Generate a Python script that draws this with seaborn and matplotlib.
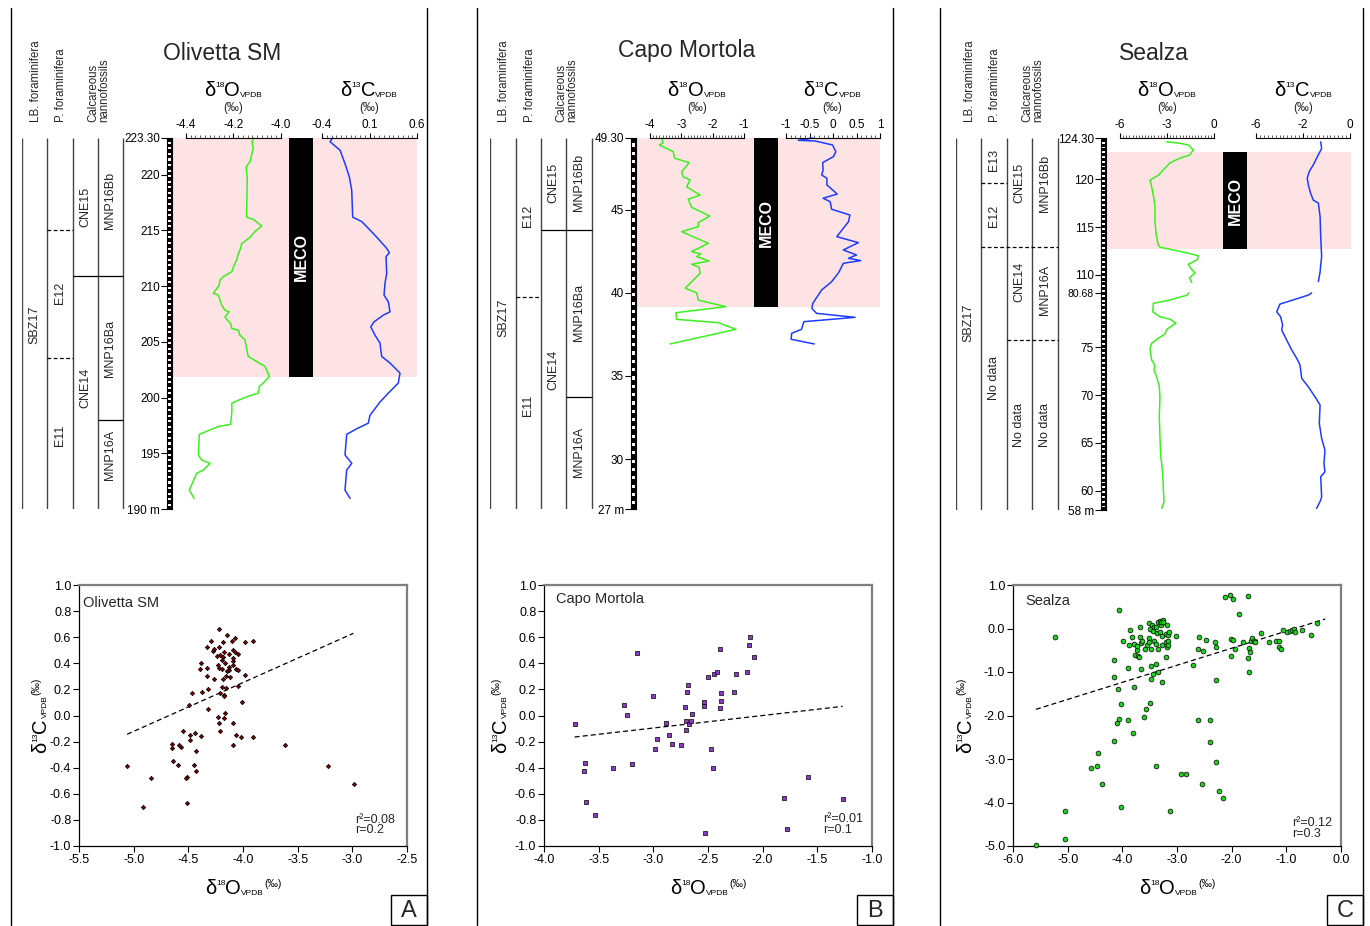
import matplotlib
matplotlib.use("Agg")
import numpy as np
import pandas as pd
import matplotlib.pyplot as plt
import seaborn as sns
from matplotlib.patches import Rectangle
from matplotlib.ticker import MultipleLocator

# ---------------- data: isotope curves (value, depth in m) ----------------
olv_o_depth = [223.3, 222.97, 222.4, 221.2, 220.7, 219.7, 216.2, 216.0, 215.4, 214.9,
               214.4, 213.8, 213.4, 212.9, 212.35, 211.75, 211.3, 210.85, 210.55, 210.1,
               209.35, 209.2, 208.75, 208.3, 207.85, 207.7, 207.25, 206.95, 206.65, 206.2,
               206.05, 205.6, 205.2, 204.1, 203.7, 203.2, 202.8, 201.9, 201.3, 201.0,
               200.4, 200.1, 199.5, 198.7, 197.6, 197.4, 196.7, 194.85, 194.4, 194.1,
               193.5, 193.2, 191.7, 190.95]
olv_o = [-4.114, -4.122, -4.117, -4.13, -4.147, -4.142, -4.145, -4.117, -4.081, -4.11,
         -4.13, -4.166, -4.17, -4.18, -4.187, -4.20, -4.207, -4.243, -4.257, -4.26,
         -4.285, -4.264, -4.257, -4.25, -4.236, -4.218, -4.236, -4.226, -4.212, -4.207,
         -4.18, -4.173, -4.152, -4.142, -4.138, -4.10, -4.067, -4.049, -4.075, -4.091,
         -4.095, -4.142, -4.207, -4.207, -4.212, -4.264, -4.344, -4.348, -4.334, -4.299,
         -4.327, -4.355, -4.386, -4.366]
olv_c_depth = [223.3, 222.97, 222.2, 221.0, 219.8, 218.6, 216.2, 215.8, 215.2, 214.4,
               213.4, 213.0, 212.65, 211.15, 210.25, 209.2, 208.6, 207.7, 207.4, 206.8,
               206.35, 205.6, 204.9, 203.7, 203.1, 202.2, 201.3, 200.4, 199.6, 198.4,
               197.7, 197.2, 196.7, 194.85, 194.1, 193.5, 191.7, 190.95]
olv_c = [-0.287, -0.316, -0.21, -0.158, -0.112, -0.087, -0.077, 0.018, 0.087, 0.176,
         0.281, 0.309, 0.274, 0.281, 0.263, 0.253, 0.298, 0.316, 0.245, 0.148,
         0.113, 0.158, 0.21, 0.228, 0.316, 0.421, 0.403, 0.298, 0.21, 0.105,
         0.087, -0.035, -0.14, -0.158, -0.087, -0.14, -0.158, -0.105]

cap_o_depth = [49.3, 49.02, 48.88, 48.48, 48.08, 47.82, 47.27, 46.97, 46.78, 46.37,
               45.87, 45.62, 45.13, 44.61, 44.21, 43.97, 43.67, 42.97, 42.47, 42.33,
               42.17, 41.91, 41.71, 41.53, 41.17, 40.27, 40.0, 39.56, 39.16, 38.80,
               38.40, 38.2, 37.8, 36.92]
cap_o = [-3.63, -3.58, -3.70, -3.26, -3.21, -2.75, -2.99, -2.94, -2.72, -2.83,
         -2.40, -2.78, -2.67, -2.09, -2.46, -2.46, -2.99, -2.14, -2.67, -2.38,
         -2.51, -2.11, -2.67, -2.43, -2.40, -2.88, -2.51, -2.46, -1.58, -3.17,
         -3.15, -1.82, -1.26, -3.36]
cap_c_depth = [49.3, 49.16, 49.12, 48.88, 48.48, 48.18, 47.82, 47.38, 47.08, 46.88,
               46.48, 45.93, 45.68, 45.47, 45.02, 44.67, 44.27, 43.37, 43.01, 42.57,
               42.27, 42.07, 41.93, 41.77, 41.37, 41.17, 40.66, 40.17, 39.36, 39.06,
               38.76, 38.52, 38.26, 37.80, 37.56, 37.20, 36.92]
cap_c = [-0.43, -0.74, -0.38, -0.01, 0.06, 0.01, -0.22, -0.21, -0.24, -0.13,
         -0.13, 0.09, -0.21, -0.06, -0.03, 0.36, 0.33, 0.08, 0.54, 0.22,
         0.50, 0.33, 0.59, 0.22, 0.15, 0.11, -0.03, -0.24, -0.43, -0.45,
         -0.35, 0.47, -0.62, -0.67, -0.88, -0.89, -0.40]

# Sealza has a gap in the section (between 80.68 m and ~108 m)
sea_o_up_depth = [123.9, 123.75, 123.57, 123.05, 122.5, 122.2, 121.7, 120.8, 120.4, 119.9,
                  119.2, 118.3, 117.3, 115.7, 114.3, 113.1, 112.9, 112.3, 112.0, 111.6,
                  111.1, 110.7, 110.2, 109.7, 109.2]
sea_o_up = [-3.02, -2.17, -1.64, -1.32, -1.57, -2.17, -2.81, -3.34, -3.56, -4.09,
            -3.98, -3.87, -3.77, -3.77, -3.70, -3.56, -3.45, -1.74, -1.00, -1.06,
            -1.64, -1.49, -1.21, -1.57, -1.42]
sea_o_lo_depth = [80.68, 80.45, 79.93, 79.59, 78.71, 78.19, 77.91, 77.50, 76.87, 76.38,
                  75.82, 75.41, 74.88, 73.66, 73.14, 72.62, 71.92, 70.87, 69.83, 67.74,
                  65.65, 63.56, 62.87, 61.82, 60.08, 58.86, 58.17]
sea_o_lo = [-1.64, -1.70, -2.81, -3.87, -3.91, -3.45, -2.77, -2.43, -3.02, -3.13,
            -3.66, -3.98, -4.09, -3.98, -3.77, -3.83, -3.66, -3.49, -3.45, -3.49,
            -3.45, -3.40, -3.34, -3.28, -3.23, -3.19, -3.34]
sea_c_up_depth = [123.9, 123.2, 122.2, 121.5, 120.8, 120.1, 119.4, 118.5, 117.8, 117.5,
                  116.1, 114.0, 111.9, 111.0, 110.3, 109.3]
sea_c_up = [-1.87, -1.81, -2.13, -2.34, -2.60, -2.73, -2.66, -2.51, -2.34, -2.02,
            -1.91, -1.87, -1.81, -1.87, -1.91, -2.02]
sea_c_lo_depth = [80.68, 80.45, 79.51, 78.71, 78.19, 77.32, 76.80, 75.75, 74.71, 73.84,
                  73.14, 71.75, 70.87, 69.66, 68.96, 67.05, 65.48, 64.26, 62.87, 61.99,
                  61.47, 59.38, 59.03, 58.17]
sea_c_lo = [-2.45, -2.66, -4.47, -4.68, -4.43, -4.30, -4.36, -4.04, -3.72, -3.40,
            -3.19, -3.08, -2.66, -2.17, -1.91, -1.96, -1.81, -1.60, -1.66, -1.60,
            -1.87, -1.81, -1.87, -2.13]

# MECO interval (depth range, m)
olv_meco = (201.85, 223.3)
cap_meco = (39.14, 49.3)
sea_meco = (112.7, 122.8)

# biozone boundaries: (depth, first column, last column, style)
olv_zone_lines = [(215.0, 1, 2, "--"), (203.55, 1, 2, "--"), (210.9, 2, 4, "-"), (198.0, 3, 4, "-")]
cap_zone_lines = [(39.74, 1, 2, "--"), (43.77, 2, 4, "-"), (33.73, 3, 4, "-")]
sea_zone_lines = [(119.6, 1, 2, "--"), (112.9, 1, 4, "--"), (75.75, 2, 4, "--")]

# biozone labels: (text, column, depth)
olv_zone_labels = [("SBZ17", 0, 206.5), ("E12", 1, 209.4), ("E11", 1, 196.6),
                   ("CNE15", 2, 217.1), ("CNE14", 2, 200.9), ("MNP16Bb", 3, 217.7),
                   ("MNP16Ba", 3, 204.45), ("MNP16A", 3, 194.85)]
cap_zone_labels = [("SBZ17", 0, 38.5), ("E12", 1, 44.6), ("E11", 1, 33.25),
                   ("CNE15", 2, 46.6), ("CNE14", 2, 35.36), ("MNP16Bb", 3, 46.6),
                   ("MNP16Ba", 3, 38.8), ("MNP16A", 3, 30.4)]
sea_zone_labels = [("SBZ17", 0, 77.6), ("E13", 1, 122.0), ("E12", 1, 116.2),
                   ("No data", 1, 71.8), ("CNE15", 2, 119.6), ("CNE14", 2, 109.25),
                   ("No data", 2, 66.9), ("MNP16Bb", 3, 119.6), ("MNP16A", 3, 108.42),
                   ("No data", 3, 66.9)]

# depth axis ticks
olv_depth_ticks = [190, 195, 200, 205, 210, 215, 220, 223.3]
olv_depth_labels = ["190 m", "195", "200", "205", "210", "215", "220", "223.30"]
cap_depth_ticks = [27, 30, 35, 40, 45, 49.3]
cap_depth_labels = ["27 m", "30", "35", "40", "45", "49.30"]
sea_depth_ticks = [58, 60, 65, 70, 75, 80.68, 110, 115, 120, 124.3]
sea_depth_labels = ["58 m", "60", "65", "70", "75", "80.68", "110", "115", "120", "124.30"]

# ---------------- data: cross plots ----------------
olv_x = [-4.215, -4.142, -4.075, -4.295, -4.185, -4.105, -3.98, -3.913, -4.331, -4.276,
         -4.261, -4.215, -4.17, -4.13, -4.087, -4.075, -4.05, -4.21, -4.24, -4.185,
         -4.383, -4.392, -4.331, -4.194, -4.163, -4.087, -4.087, -4.233, -4.215, -4.194,
         -4.124, -4.093, -4.062, -4.05, -4.15, -4.127, -4.331, -4.261, -4.185, -4.157,
         -4.118, -3.98, -4.05, -4.194, -4.157, -4.316, -4.377, -4.462, -4.21, -4.175,
         -4.17, -4.493, -4.322, -4.005, -4.163, -4.233, -4.17, -4.087, -4.215, -4.545,
         -4.481, -4.438, -4.383, -4.21, -4.066, -4.02, -3.904, -4.484, -4.096, -3.62,
         -4.652, -4.652, -4.581, -4.563, -4.432, -4.643, -4.591, -4.447, -4.432, -4.514,
         -4.524, -5.06, -4.841, -4.911, -4.514, -3.227, -2.988]
olv_y = [0.663, 0.614, 0.591, 0.573, 0.563, 0.573, 0.563, 0.573, 0.522, 0.497,
         0.512, 0.522, 0.487, 0.469, 0.502, 0.484, 0.471, 0.464, 0.456, 0.446,
         0.405, 0.354, 0.364, 0.425, 0.40, 0.438, 0.42, 0.384, 0.366, 0.356,
         0.374, 0.384, 0.359, 0.349, 0.344, 0.346, 0.303, 0.277, 0.277, 0.303,
         0.292, 0.313, 0.229, 0.221, 0.208, 0.201, 0.183, 0.175, 0.175, 0.157,
         0.149, 0.08, 0.052, 0.103, 0.022, -0.009, -0.022, -0.055, -0.06, -0.119,
         -0.147, -0.137, -0.155, -0.119, -0.147, -0.167, -0.167, -0.188, -0.226, -0.226,
         -0.216, -0.252, -0.226, -0.244, -0.27, -0.346, -0.377, -0.377, -0.428, -0.469,
         -0.479, -0.387, -0.479, -0.699, -0.668, -0.387, -0.527]
olv_fit_x = [-5.06, -2.99]
olv_fit_y = [-0.144, 0.630]
olv_stats = ["r\u00b2=0.08", "r=0.2"]

cap_x = [-3.719, -3.627, -3.634, -3.612, -3.529, -3.371, -3.27, -3.239, -3.196, -3.15,
         -3.001, -2.989, -2.967, -2.888, -2.86, -2.83, -2.75, -2.71, -2.698, -2.698,
         -2.689, -2.68, -2.67, -2.66, -2.648, -2.535, -2.535, -2.532, -2.496, -2.477,
         -2.456, -2.448, -2.422, -2.392, -2.392, -2.383, -2.38, -2.258, -2.243, -2.142,
         -2.121, -2.112, -2.079, -1.803, -1.782, -1.589, -1.268]
cap_y = [-0.068, -0.367, -0.428, -0.66, -0.76, -0.40, 0.083, 0.001, -0.369, 0.481,
         0.152, -0.259, -0.178, -0.057, -0.147, -0.218, -0.229, 0.063, -0.04, -0.111,
         0.18, 0.231, -0.065, -0.04, 0.012, 0.101, 0.073, -0.898, 0.292, -0.259,
         -0.40, 0.32, 0.331, 0.51, 0.06, 0.17, 0.111, 0.18, 0.32, 0.331,
         0.54, 0.602, 0.451, -0.63, -0.867, -0.471, -0.637]
cap_fit_x = [-3.72, -1.27]
cap_fit_y = [-0.165, 0.070]
cap_stats = ["r\u00b2=0.01", "r=0.1"]

sea_x = [-5.58, -5.05, -5.04, -5.23, -4.58, -4.47, -4.44, -4.38, -4.16, -4.16,
         -4.16, -4.10, -4.08, -4.07, -4.07, -4.03, -4.03, -3.99, -3.89, -3.89,
         -3.88, -3.86, -3.83, -3.80, -3.78, -3.78, -3.77, -3.74, -3.73, -3.72,
         -3.70, -3.68, -3.67, -3.66, -3.66, -3.64, -3.61, -3.59, -3.56, -3.55,
         -3.52, -3.52, -3.51, -3.49, -3.48, -3.47, -3.49, -3.47, -3.45, -3.44,
         -3.42, -3.42, -3.44, -3.39, -3.39, -3.38, -3.38, -3.36, -3.34, -3.34,
         -3.34, -3.32, -3.31, -3.30, -3.30, -3.28, -3.28, -3.27, -3.25, -3.25,
         -3.21, -3.20, -3.20, -3.19, -3.19, -3.17, -3.17, -3.16, -3.14, -3.13,
         -3.02, -2.92, -2.83, -2.70, -2.61, -2.61, -2.59, -2.54, -2.52, -2.47,
         -2.39, -2.39, -2.31, -2.29, -2.29, -2.28, -2.23, -2.15, -2.12, -2.03,
         -2.01, -2.01, -1.98, -1.98, -1.93, -1.87, -1.80, -1.71, -1.71, -1.69,
         -1.68, -1.67, -1.65, -1.62, -1.60, -1.58, -1.46, -1.31, -1.19, -1.13,
         -1.13, -1.10, -1.07, -0.98, -0.93, -0.90, -0.86, -0.85, -0.72, -0.54, -0.43]
sea_y = [-4.98, -4.84, -4.19, -0.19, -3.20, -3.15, -2.87, -3.58, -2.59, -1.11,
         -0.72, -2.18, -1.38, -2.07, 0.42, -1.74, -4.10, -0.29, -2.10, -0.90,
         -0.37, -0.03, -0.19, -2.40, -1.34, -0.36, -0.62, -0.49, -0.41, -0.63,
         -0.66, -0.19, 0.04, -0.33, -0.94, -0.29, -2.03, -0.46, -1.84, -0.39,
         -0.22, -0.31, 0.13, -1.72, -0.87, -1.17, -0.02, -0.48, 0.07, -0.05,
         0.03, -0.29, -1.05, -0.82, -3.15, 0.03, -0.36, -0.10, 0.14, -0.99,
         -0.46, -0.07, 0.18, 0.07, 0.14, -0.17, -0.38, -1.23, 0.20, 0.16,
         -0.13, -0.30, -0.65, 0.08, -0.42, -0.16, -0.28, -0.37, -0.08, -4.20,
         -0.17, -3.35, -3.35, -0.85, -0.46, -2.10, -0.19, -3.58, -0.52, -0.26,
         -2.10, -2.62, -0.30, -0.43, -1.18, -3.08, -3.73, -3.89, 0.72, 0.77,
         -0.25, -0.63, -0.26, 0.68, -0.46, 0.33, -0.30, 0.75, -0.67, -1.01,
         -0.44, -0.53, -0.28, -0.21, -0.28, -0.30, -0.11, -0.30, -0.28, -0.28,
         -0.42, -0.46, -0.04, -0.09, -0.05, -0.03, 0.00, -0.07, -0.04, -0.16, 0.13]
sea_fit_x = [-5.58, -0.29]
sea_fit_y = [-1.858, 0.218]
sea_stats = ["r\u00b2=0.12", "r=0.3"]

# ---------------- style ----------------
sns.set_theme(style="white")
plt.rcParams["font.family"] = ["Liberation Sans", "DejaVu Sans"]
plt.rcParams["axes.unicode_minus"] = False

W, H = 1370, 926
GREEN = "#3cf01e"
BLUE = "#1e3cff"
PINK = "#fde3e3"
LINE = "#444444"

fig = plt.figure(figsize=(W / 100, H / 100), dpi=100)


def px(x0, y0, x1, y1):
    # pixel box (top-left origin) -> figure rect
    return [x0 / W, 1 - y1 / H, (x1 - x0) / W, (y1 - y0) / H]


def same(d):
    return np.asarray(d, dtype=float)


def sealza_pos(d):
    # collapse the unsampled gap of the Sealza section
    d = np.asarray(d, dtype=float)
    return np.where(d > 80.7, d - 27.44, d)


def top_scale(ax, lim, majors, labels, minor):
    ax.set_xlim(*lim)
    ax.xaxis.tick_top()
    ax.set_xticks(majors, labels=labels)
    ax.xaxis.set_minor_locator(MultipleLocator(minor))
    for s in ["left", "right", "bottom"]:
        ax.spines[s].set_visible(False)
    ax.spines["top"].set_color("black")
    ax.spines["top"].set_linewidth(0.8)
    ax.tick_params(axis="x", which="major", direction="out", length=3.5, width=0.8,
                   pad=1.5, labelsize=8.5, colors="black", top=True, bottom=False)
    ax.tick_params(axis="x", which="minor", direction="out", length=2, width=0.5,
                   top=True, bottom=False)
    ax.set_yticks([])
    ax.set_xlabel("")
    ax.set_ylabel("")
    ax.patch.set_visible(False)


def draw_section(L, conv, depth_range, meco, zone_lines, zone_labels,
                 o_segs, c_segs, o_scale, c_scale, ticks, tick_labels):
    lo, hi = conv(depth_range[0]), conv(depth_range[1])
    cols = L["cols"]
    y0, y1 = L["ytop"], L["ybot"]

    # background track: pink MECO band, bar, biozone columns
    tr = fig.add_axes(px(cols[0], y0, L["right"], y1))
    tr.set_xlim(cols[0], L["right"])
    tr.set_ylim(lo, hi)
    tr.axis("off")
    m0, m1 = conv(meco[0]), conv(meco[1])
    b1 = L["bar"][1]
    tr.add_patch(Rectangle((b1, m0), L["right"] - b1, m1 - m0, color=PINK, lw=0, zorder=0))
    tr.add_patch(Rectangle((L["meco"][0], m0), L["meco"][1] - L["meco"][0], m1 - m0,
                           color="black", lw=0, zorder=2))
    tr.text(sum(L["meco"]) / 2, (m0 + m1) / 2, "MECO", rotation=90, color="white",
            fontweight="bold", fontsize=11.5, ha="center", va="center", zorder=3)
    tr.vlines(cols, lo, hi, colors=LINE, lw=1.0)
    for d, c0, c1, ls in zone_lines:
        tr.hlines(conv(d), cols[c0], cols[c1], colors="black", lw=0.9,
                  linestyles=(0, (3, 2)) if ls == "--" else "solid")
    for txt, c, d in zone_labels:
        tr.text((cols[c] + cols[c + 1]) / 2, conv(d), txt, rotation=90,
                ha="center", va="center", fontsize=9)

    # checkered depth bar with depth scale
    bar = fig.add_axes(px(L["bar"][0], y0, L["bar"][1], y1))
    bar.set_xlim(0, 1)
    bar.set_ylim(lo, hi)
    bar.set_facecolor("black")
    for k, c in enumerate(np.arange(lo, hi, 0.25)):
        if k % 2:
            bar.add_patch(Rectangle((0.15, c + 0.03), 0.6, 0.19, color="white", lw=0))
    bar.set_xticks([])
    bar.set_yticks(conv(ticks), labels=tick_labels)
    bar.tick_params(axis="y", direction="out", length=4, width=0.8, pad=1,
                    labelsize=8.5, colors="black", left=True)
    for lab in bar.get_yticklabels():
        if lab.get_text() == "80.68":
            lab.set_fontsize(7.5)
    for s in bar.spines.values():
        s.set_color("black")
        s.set_linewidth(0.8)

    # isotope curves
    for box, segs, scale, color in [(L["o"], o_segs, o_scale, GREEN),
                                     (L["c"], c_segs, c_scale, BLUE)]:
        ax = fig.add_axes(px(box[0], y0, box[1], y1))
        ax.set_ylim(lo, hi)
        for vals, depths in segs:
            df = pd.DataFrame({"v": vals, "d": conv(depths)})
            sns.lineplot(data=df, x="v", y="d", sort=False, estimator=None,
                         color=color, lw=1.1, ax=ax, clip_on=False)
        top_scale(ax, *scale)


def rich(x, y, parts, rot=0):
    # piecewise text (sizes/offsets per piece), centred on x (or y when rotated)
    r = fig.canvas.get_renderer()
    items = []
    for s, fs, dy in parts:
        t = ov.text(0, 0, s, fontsize=fs, rotation=rot, rotation_mode="anchor",
                    ha="left", va="baseline", color="black")
        bb = t.get_window_extent(r)
        items.append((t, bb.height if rot else bb.width, dy))
    pos = -sum(w for _, w, _ in items) / 2
    for t, w, dy in items:
        if rot:
            t.set_position((x - dy, y - pos))
        else:
            t.set_position((x + pos, y - dy))
        pos += w


def cross_plot(box, x, y, fit_x, fit_y, xlim, xt, ylim, yt, name, name_pos,
               stats, stats_pos, marker, face, size):
    ax = fig.add_axes(px(*box))
    sns.scatterplot(x=x, y=y, marker=marker, s=size, color=face, edgecolor="black",
                    linewidth=0.5, ax=ax, zorder=3, clip_on=False)
    ax.plot(fit_x, fit_y, ls=(0, (4, 2.5)), color="black", lw=0.9, zorder=2)
    ax.set_xlim(*xlim)
    ax.set_ylim(*ylim)
    ax.set_xticks(xt, labels=[f"{v:.1f}" for v in xt])
    ax.set_yticks(yt, labels=[f"{v:.1f}" for v in yt])
    ax.tick_params(direction="out", length=4, width=0.8, labelsize=9, pad=1.5,
                   colors="black", left=True, bottom=True)
    for s in ["left", "bottom"]:
        ax.spines[s].set_color("black")
        ax.spines[s].set_linewidth(0.9)
    for s in ["top", "right"]:
        ax.spines[s].set_color("#7f7f7f")
        ax.spines[s].set_linewidth(1.6)
    ax.set_facecolor("white")
    ax.set_xlabel("")
    ax.set_ylabel("")
    ax.text(name_pos[0], name_pos[1], name, transform=ax.transAxes, fontsize=10.5,
            ha="left", va="baseline")
    for txt, yy in zip(stats, stats_pos[1]):
        ax.text(stats_pos[0], yy, txt, transform=ax.transAxes, fontsize=9,
                ha="left", va="baseline")


# ---------------- top sections ----------------
OLV = dict(cols=[22, 47, 73, 98, 123], bar=(167, 172), o=(186, 281), c=(322, 417),
           meco=(289, 313), right=417, ytop=138, ybot=509)
CAP = dict(cols=[490, 516, 541, 566, 592], bar=(631, 636), o=(650, 744), c=(786, 880),
           meco=(754, 778), right=880, ytop=138, ybot=509)
SEA = dict(cols=[956, 981, 1007, 1032, 1058], bar=(1101, 1106), o=(1120, 1214),
           c=(1256, 1350), meco=(1223, 1247), right=1351, ytop=138, ybot=510)

draw_section(OLV, same, (190, 223.3), olv_meco, olv_zone_lines, olv_zone_labels,
             [(olv_o, olv_o_depth)], [(olv_c, olv_c_depth)],
             ((-4.4, -4.0), [-4.4, -4.2, -4.0], ["-4.4", "-4.2", "-4.0"], 0.02),
             ((-0.4, 0.6), [-0.4, 0.1, 0.6], ["-0.4", "0.1", "0.6"], 0.05),
             olv_depth_ticks, olv_depth_labels)
draw_section(CAP, same, (27, 49.3), cap_meco, cap_zone_lines, cap_zone_labels,
             [(cap_o, cap_o_depth)], [(cap_c, cap_c_depth)],
             ((-4, -1), [-4, -3, -2, -1], ["-4", "-3", "-2", "-1"], 0.1),
             ((-1, 1), [-1, -0.5, 0, 0.5, 1], ["-1", "-0.5", "0", "0.5", "1"], 0.1),
             cap_depth_ticks, cap_depth_labels)
draw_section(SEA, sealza_pos, (58, 124.3), sea_meco, sea_zone_lines, sea_zone_labels,
             [(sea_o_up, sea_o_up_depth), (sea_o_lo, sea_o_lo_depth)],
             [(sea_c_up, sea_c_up_depth), (sea_c_lo, sea_c_lo_depth)],
             ((-6, 0), [-6, -3, 0], ["-6", "-3", "0"], 0.2),
             ((-6, 0), [-6, -3, 0], ["-6", "-2", "0"], 0.25),
             sea_depth_ticks, sea_depth_labels)

# ---------------- cross plots ----------------
cross_plot((79, 585, 407, 846), olv_x, olv_y, olv_fit_x, olv_fit_y,
           (-5.5, -2.5), np.round(np.arange(-5.5, -2.49, 0.5), 1) + 0.0,
           (-1, 1), np.round(np.linspace(-1, 1, 11), 1) + 0.0,
           "Olivetta SM", (0.012, 0.916), olv_stats, (0.842, [0.088, 0.05]),
           "D", "#7a0000", 5)
cross_plot((544, 585, 872, 846), cap_x, cap_y, cap_fit_x, cap_fit_y,
           (-4, -1), np.round(np.arange(-4, -0.99, 0.5), 1) + 0.0,
           (-1, 1), np.round(np.linspace(-1, 1, 11), 1) + 0.0,
           "Capo Mortola", (0.038, 0.93), cap_stats, (0.85, [0.093, 0.05]),
           "s", "#8a3cc8", 10)
cross_plot((1013, 585, 1341, 846), sea_x, sea_y, sea_fit_x, sea_fit_y,
           (-6, 0), np.round(np.arange(-6, 0.01, 1.0), 1) + 0.0,
           (-5, 1), np.round(np.arange(-5, 1.01, 1.0), 1) + 0.0,
           "Sealza", (0.039, 0.922), sea_stats, (0.85, [0.077, 0.036]),
           "o", "#1ed21e", 12)

# ---------------- overlay: frames, headers, labels ----------------
ov = fig.add_axes([0, 0, 1, 1])
ov.set_xlim(0, W)
ov.set_ylim(H, 0)
ov.axis("off")
ov.patch.set_alpha(0)
ov.set_zorder(10)

for (xl, xr), letter in zip([(11, 427), (477, 893), (940, 1363)], "ABC"):
    ov.plot([xl, xl], [8, 925], color="black", lw=1)
    ov.plot([xr, xr], [8, 925], color="black", lw=1)
    ov.add_patch(Rectangle((xr - 36, 895), 36, 30, fill=False, ec="black", lw=1))
    ov.text(xr - 18, 911, letter, fontsize=17, ha="center", va="center")

titles = [("Olivetta SM", 222.5, 60), ("Capo Mortola", 687, 57), ("Sealza", 1154, 60)]
for txt, x, y in titles:
    ov.text(x, y, txt, fontsize=16.5, ha="center", va="baseline")

for L in (OLV, CAP, SEA):
    c = L["cols"]
    for txt, xb in [("LB. foraminifera", c[0] + 17), ("P. foraminifera", c[1] + 17),
                    ("Calcareous", c[2] + 23), ("nannofossils", c[3] + 9.5)]:
        ov.text(xb, 122, txt, rotation=90, rotation_mode="anchor", ha="left",
                va="baseline", fontsize=8.3)

hdr_o = [("\u03b4", 14.5, 0), ("18", 6, 9), ("O", 14.5, 0), ("VPDB", 6, -1)]
hdr_c = [("\u03b4", 14.5, 0), ("13", 6, 9), ("C", 14.5, 0), ("VPDB", 6, -1)]
for xo, xc in [(233.5, 369), (697, 832.5), (1167, 1303.5)]:
    rich(xo, 96, hdr_o)
    rich(xc, 96, hdr_c)
    ov.text(xo, 111, "(\u2030)", fontsize=8.5, ha="center", va="baseline")
    ov.text(xc, 111, "(\u2030)", fontsize=8.5, ha="center", va="baseline")

lab_o = hdr_o + [("(\u2030)", 7.5, 7)]
lab_c = hdr_c + [("(\u2030)", 7.5, 7)]
for xc, ybase in [(243, 46), (708, 506), (1177, 971)]:
    rich(xc, 894, lab_o)
    rich(ybase, 715.5, lab_c, rot=90)

fig.savefig("out.png", dpi=100)
